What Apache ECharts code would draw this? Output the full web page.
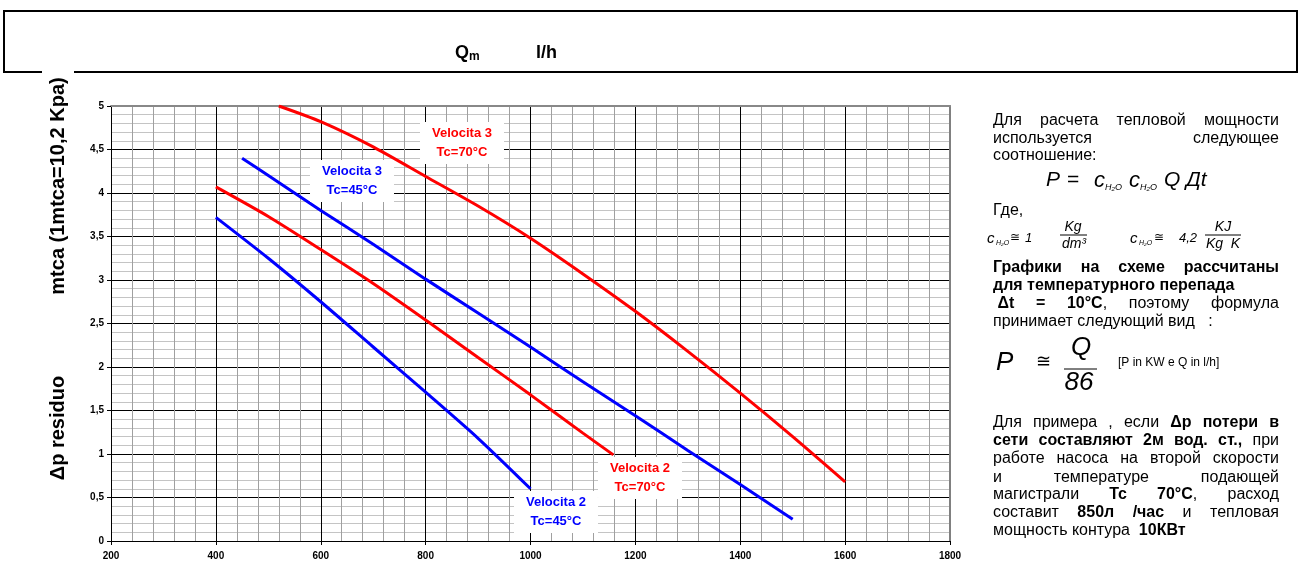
<!DOCTYPE html>
<html>
<head>
<meta charset="utf-8">
<script src="https://cdn.jsdelivr.net/npm/echarts@6/dist/echarts.min.js"></script>
<style>
html,body{margin:0;padding:0;background:#fff;}
#chart{width:1301px;height:563px;}
</style>
</head>
<body>
<div id="chart"></div>
<script>
// ---- data ----
const xTicks = [200, 400, 600, 800, 1000, 1200, 1400, 1600, 1800];
const yTicks = [0, 0.5, 1, 1.5, 2, 2.5, 3, 3.5, 4, 4.5, 5];

const qV3_70 = [520, 600, 700, 800, 900, 1000, 1100, 1200, 1300, 1400, 1500, 1600];
const dpV3_70 = [5.0, 4.82, 4.53, 4.19, 3.85, 3.48, 3.07, 2.64, 2.18, 1.70, 1.20, 0.68];

const qV3_45 = [450, 500, 600, 700, 800, 900, 1000, 1100, 1200, 1300, 1400, 1500];
const dpV3_45 = [4.40, 4.20, 3.80, 3.41, 3.01, 2.62, 2.23, 1.83, 1.44, 1.04, 0.65, 0.25];

const qV2_70 = [400, 500, 600, 700, 800, 900, 1000, 1100, 1158];
const dpV2_70 = [4.07, 3.73, 3.35, 2.96, 2.54, 2.11, 1.68, 1.24, 0.99];

const qV2_45 = [400, 500, 600, 700, 800, 900, 1000];
const dpV2_45 = [3.72, 3.25, 2.75, 2.23, 1.71, 1.18, 0.60];

const seriesNames = ['Velocita 3 Tc=70°C', 'Velocita 3 Tc=45°C', 'Velocita 2 Tc=70°C', 'Velocita 2 Tc=45°C'];

// ---- helpers ----
const FAM = '"Liberation Sans", Arial, sans-serif';
const zip = (xs, ys) => xs.map((x, i) => [x, ys[i]]);
const cvs = document.createElement('canvas');
const ctx = cvs.getContext('2d');
function fontStr(size, bold, italic) {
  return (italic ? 'italic ' : '') + (bold ? 'bold ' : '') + size + 'px ' + FAM;
}
function measure(t, size, bold, italic) { ctx.font = fontStr(size, bold, italic); return ctx.measureText(t).width; }
function txt(x, y, text, size, opt) {
  opt = opt || {};
  return {
    type: 'text', z: opt.z || 100,
    style: {
      text: text, x: x, y: y,
      font: fontStr(size, opt.bold, opt.italic),
      fill: opt.color || '#000',
      align: opt.align || 'left', textAlign: opt.align || 'left',
      verticalAlign: opt.va || 'middle', textVerticalAlign: opt.va || 'middle'
    }
  };
}

const TL = 993, TR = 1279, BODY = 16;
const graphics = [];

function parseLine(s) {
  // '*' toggles bold. returns tokens: {sp:n} or {segs:[{t,b}]}
  const tokens = [];
  let bold = false, cur = null;
  for (const ch of s) {
    if (ch === '*') { bold = !bold; continue; }
    if (ch === ' ') {
      cur = null;
      const last = tokens[tokens.length - 1];
      if (last && last.sp !== undefined) last.sp++; else tokens.push({ sp: 1 });
      continue;
    }
    if (!cur) { cur = { segs: [] }; tokens.push(cur); }
    const ls = cur.segs[cur.segs.length - 1];
    if (ls && ls.b === bold) ls.t += ch; else cur.segs.push({ t: ch, b: bold });
  }
  return tokens;
}
function wordW(w) { return w.segs.reduce((a, s) => a + measure(s.t, BODY, s.b), 0); }
function placeWord(w, x, y) {
  for (const s of w.segs) {
    graphics.push(txt(x, y, s.t, BODY, { bold: s.b }));
    x += measure(s.t, BODY, s.b);
  }
}
function line(s, y, justify) {
  const tokens = parseLine(s);
  const spW = measure(' ', BODY, false);
  if (justify) {
    let lead = 0;
    if (tokens[0] && tokens[0].sp !== undefined) lead = tokens[0].sp * spW;
    const words = tokens.filter(t => t.segs);
    const tot = words.reduce((a, w) => a + wordW(w), 0);
    const gap = words.length > 1 ? (TR - TL - lead - tot) / (words.length - 1) : 0;
    let x = TL + lead;
    for (const w of words) { placeWord(w, x, y); x += wordW(w) + gap; }
  } else {
    let x = TL;
    for (const t of tokens) {
      if (t.sp !== undefined) x += t.sp * spW;
      else { placeWord(t, x, y); x += wordW(t); }
    }
  }
}

// right-hand explanatory text
line('Для расчета тепловой мощности', 121, true);
line('используется следующее', 138.5, true);
line('соотношение:', 156, false);

// P = c c Q Дt
graphics.push(txt(1046, 180, 'P', 21, { italic: true }));
graphics.push(txt(1067, 180, '=', 21));
graphics.push(txt(1094, 181, 'c', 22, { italic: true }));
graphics.push(txt(1105, 187, 'H₂O', 9, { italic: true }));
graphics.push(txt(1129, 181, 'c', 22, { italic: true }));
graphics.push(txt(1140, 187, 'H₂O', 9, { italic: true }));
graphics.push(txt(1164, 180, 'Q', 21, { italic: true }));
graphics.push(txt(1186, 180, 'Дt', 21, { italic: true }));

line('Где,', 211, false);

// c ≅ 1 Kg/dm3     c ≅ 4,2 KJ/(Kg K)
graphics.push(txt(987, 239, 'c', 15, { italic: true }));
graphics.push(txt(996, 243, 'H₂O', 7, { italic: true }));
graphics.push(txt(1010, 238, '≅', 12));
graphics.push(txt(1025, 238, '1', 13, { italic: true }));
graphics.push(txt(1073, 227, 'Kg', 14, { italic: true, align: 'center' }));
graphics.push({ type: 'line', z: 100, shape: { x1: 1060, y1: 235, x2: 1087, y2: 235 }, style: { stroke: '#000', lineWidth: 1 } });
graphics.push(txt(1074, 244, 'dm³', 14, { italic: true, align: 'center' }));
graphics.push(txt(1130, 239, 'c', 15, { italic: true }));
graphics.push(txt(1139, 243, 'H₂O', 7, { italic: true }));
graphics.push(txt(1154, 238, '≅', 12));
graphics.push(txt(1179, 238, '4,2', 13, { italic: true }));
graphics.push(txt(1223, 227, 'KJ', 14, { italic: true, align: 'center' }));
graphics.push({ type: 'line', z: 100, shape: { x1: 1205, y1: 235, x2: 1241, y2: 235 }, style: { stroke: '#000', lineWidth: 1 } });
graphics.push(txt(1223, 244, 'Kg  K', 14, { italic: true, align: 'center' }));

line('*Графики на схеме рассчитаны*', 267.5, true);
line('*для температурного перепада*', 285.7, false);
line(' *Δt = 10°C*, поэтому формула', 304, true);
line('принимает следующий вид   :', 322, false);

// P ≅ Q / 86
graphics.push(txt(996, 363, 'P', 26, { italic: true }));
graphics.push(txt(1036, 362, '≅', 18));
graphics.push(txt(1081, 348, 'Q', 26, { italic: true, align: 'center' }));
graphics.push({ type: 'line', z: 100, shape: { x1: 1064, y1: 369, x2: 1097, y2: 369 }, style: { stroke: '#000', lineWidth: 1 } });
graphics.push(txt(1079, 383, '86', 26, { italic: true, align: 'center' }));
graphics.push(txt(1118, 363, '[P in KW e Q in l/h]', 12));

line('Для примера , если  *Δp потери  в*', 422.7, true);
line('*сети составляют  2м вод. ст.,* при', 440.7, true);
line('работе насоса на  второй  скорости', 459, true);
line('и температуре подающей', 477.3, true);
line('магистрали  *Tc*  *70°C*, расход', 495, true);
line('составит  *850л /час* и тепловая', 512.7, true);
line('мощность контура  *10КВт*', 530.7, false);

// header box with Qm  l/h
graphics.push({ type: 'rect', z: 90, shape: { x: 4, y: 11, width: 1293, height: 61 }, style: { fill: 'none', stroke: '#000', lineWidth: 2 } });
graphics.push(txt(455, 53, 'Q', 18, { bold: true }));
graphics.push(txt(469, 57, 'm', 12, { bold: true }));
graphics.push(txt(536, 53, 'l/h', 18, { bold: true }));

// rotated y-axis titles
function rotText(x, y, text) {
  return {
    type: 'text', z: 110, x: x, y: y, rotation: Math.PI / 2,
    style: {
      text: text, x: 0, y: 0, font: fontStr(20, true, false), fill: '#000',
      align: 'center', textAlign: 'center', verticalAlign: 'middle', textVerticalAlign: 'middle',
      backgroundColor: '#fff', padding: [6, 8, 6, 4]
    }
  };
}
graphics.push(rotText(58, 184, 'mtca (1mtca=10,2 Kpa)'));
graphics.push(rotText(58, 426, 'Δp residuo'));

// curve labels
function curveLabel(x, y, text, color) {
  return {
    type: 'text', z: 120,
    style: {
      text: text, x: x, y: y, font: fontStr(13, true, false), fill: color,
      align: 'center', textAlign: 'center', verticalAlign: 'middle', textVerticalAlign: 'middle',
      lineHeight: 19, backgroundColor: '#fff', padding: [2, 12, 2, 12]
    }
  };
}
graphics.push(curveLabel(462, 143, 'Velocita 3\nTc=70°C', '#ff0000'));
graphics.push(curveLabel(352, 181, 'Velocita 3\nTc=45°C', '#0000ff'));
graphics.push(curveLabel(640, 478, 'Velocita 2\nTc=70°C', '#ff0000'));
graphics.push(curveLabel(556, 512, 'Velocita 2\nTc=45°C', '#0000ff'));

// ---- chart ----
const chart = echarts.init(document.getElementById('chart'), null, { renderer: 'canvas' });
const xSplitColors = xTicks.map((v, i) => i === xTicks.length - 1 ? '#808080' : '#000');
const ySplitColors = yTicks.map((v, i) => i === yTicks.length - 1 ? '#808080' : '#000');

function mkSeries(name, q, dp, color) {
  return {
    name: name, type: 'line', data: zip(q, dp), showSymbol: false, symbol: 'none',
    smooth: 0.25, z: 5,
    lineStyle: { color: color, width: 3 }, itemStyle: { color: color },
    emphasis: { disabled: true }, animation: false
  };
}

chart.setOption({
  animation: false,
  backgroundColor: '#fff',
  grid: { left: 111, top: 106, width: 839, height: 435, containLabel: false },
  xAxis: [{
    type: 'value', min: xTicks[0], max: xTicks[xTicks.length - 1], interval: 200,
    axisLine: { show: true, onZero: false, lineStyle: { color: '#000', width: 1 } },
    axisTick: { show: true, length: 4, lineStyle: { color: '#000' } },
    axisLabel: { color: '#000', fontSize: 10, fontWeight: 'bold', fontFamily: FAM, margin: 10, formatter: v => String(v) },
    splitLine: { show: true, lineStyle: { color: xSplitColors, width: 1 } },
    minorTick: { show: false, splitNumber: 5 },
    minorSplitLine: { show: true, lineStyle: { color: '#a0a0a0', width: 1 } }
  }, {
    type: 'value', position: 'top', min: xTicks[0], max: xTicks[xTicks.length - 1], interval: 200,
    axisLine: { show: true, onZero: false, lineStyle: { color: '#888', width: 2 } },
    axisTick: { show: false }, axisLabel: { show: false }, splitLine: { show: false }
  }],
  yAxis: [{
    type: 'value', min: yTicks[0], max: yTicks[yTicks.length - 1], interval: 0.5,
    axisLine: { show: true, onZero: false, lineStyle: { color: '#000', width: 1 } },
    axisTick: { show: true, length: 4, lineStyle: { color: '#000' } },
    axisLabel: {
      color: '#000', fontSize: 10, fontWeight: 'bold', fontFamily: FAM, margin: 7,
      formatter: v => String(v).replace('.', ',')
    },
    splitLine: { show: true, lineStyle: { color: ySplitColors, width: 1 } },
    minorTick: { show: false, splitNumber: 5 },
    minorSplitLine: { show: true, lineStyle: { color: '#c4c4c4', width: 1 } }
  }, {
    type: 'value', position: 'right', min: yTicks[0], max: yTicks[yTicks.length - 1], interval: 0.5,
    axisLine: { show: true, onZero: false, lineStyle: { color: '#808080', width: 2 } },
    axisTick: { show: false }, axisLabel: { show: false }, splitLine: { show: false }
  }],
  series: [
    mkSeries(seriesNames[0], qV3_70, dpV3_70, '#ff0000'),
    mkSeries(seriesNames[1], qV3_45, dpV3_45, '#0000ff'),
    mkSeries(seriesNames[2], qV2_70, dpV2_70, '#ff0000'),
    mkSeries(seriesNames[3], qV2_45, dpV2_45, '#0000ff')
  ],
  graphic: { elements: graphics }
});
</script>
</body>
</html>
